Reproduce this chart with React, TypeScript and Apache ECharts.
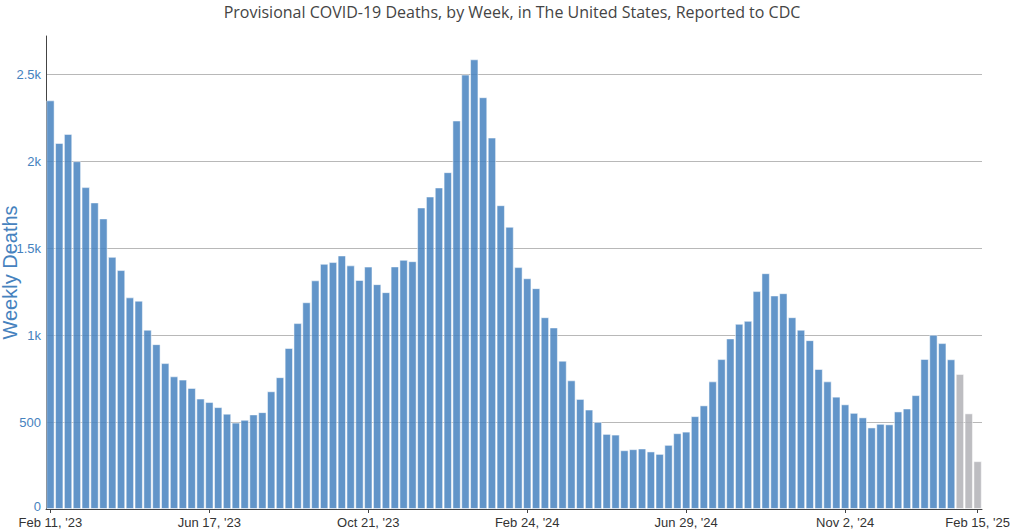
import React, { useEffect, useRef } from "react";
import * as echarts from "echarts";

const TITLE = "Provisional COVID-19 Deaths, by Week, in The United States, Reported to CDC";
const Y_AXIS_TITLE = "Weekly Deaths";
const FIRST_WEEK_UTC = Date.UTC(2023, 1, 11);

// Weekly deaths, reported (blue)
const reportedDeaths = [
  2350, 2105, 2157, 2000, 1851, 1763, 1671, 1450, 1374, 1217,
  1198, 1031, 948, 839, 763, 744, 696, 635, 615, 586,
  548, 497, 513, 544, 557, 677, 758, 926, 1069, 1189,
  1315, 1410, 1420, 1458, 1401, 1317, 1394, 1293, 1247, 1395,
  1433, 1425, 1734, 1797, 1849, 1937, 2234, 2498, 2586, 2368,
  2136, 1747, 1623, 1391, 1327, 1270, 1103, 1044, 853, 740,
  633, 572, 501, 432, 428, 338, 344, 348, 331, 317,
  369, 436, 445, 534, 596, 734, 862, 981, 1065, 1082,
  1253, 1356, 1228, 1241, 1103, 1031, 971, 805, 734, 646,
  602, 553, 527, 469, 490, 487, 561, 578, 655, 863,
  1002, 954, 861,
];
// Most recent weeks, still incomplete (grey)
const provisionalDeaths = [777, 550, 275];

const xTickIndices = [0, 18, 36, 54, 72, 90, 105];
const yTickValues = [0, 500, 1000, 1500, 2000, 2500];
const yTickLabels = ["0", "500", "1k", "1.5k", "2k", "2.5k"];
const Y_MAX = 2720;

const MONTHS = ["Jan", "Feb", "Mar", "Apr", "May", "Jun", "Jul", "Aug", "Sep", "Oct", "Nov", "Dec"];
const weekCount = reportedDeaths.length + provisionalDeaths.length;
const categories: string[] = [];
for (let i = 0; i < weekCount; i++) {
  const d = new Date(FIRST_WEEK_UTC + i * 7 * 86400000);
  categories.push(
    `${MONTHS[d.getUTCMonth()]} ${d.getUTCDate()}, '${String(d.getUTCFullYear()).slice(2)}`
  );
}

const BLUE = "#4782c0";
const GREY = "#b2b2b6";
const LABEL_BLUE = "#4682be";

export default function App() {
  const ref = useRef<HTMLDivElement>(null);
  useEffect(() => {
    document.body.style.margin = "0";
    if (!ref.current) return;
    const chart = echarts.init(ref.current, undefined, { renderer: "svg" });
    const tickSet = new Set(xTickIndices);
    const data = [
      ...reportedDeaths.map((v) => ({ value: v })),
      ...provisionalDeaths.map((v) => ({ value: v, itemStyle: { color: GREY } })),
    ];
    chart.setOption({
      animation: false,
      title: {
        text: TITLE,
        left: "center",
        top: -1,
        textStyle: {
          fontFamily: "Open Sans",
          fontSize: 16,
          fontWeight: "normal",
          color: "#444",
        },
      },
      grid: { left: 46, right: 42, top: 36, bottom: 23, containLabel: false },
      xAxis: {
        type: "category",
        data: categories,
        boundaryGap: true,
        axisLine: { show: true, lineStyle: { color: "#444", width: 1 } },
        axisTick: {
          show: true,
          alignWithLabel: true,
          interval: (i: number) => tickSet.has(i),
          length: 4,
          lineStyle: { color: "#444" },
        },
        axisLabel: {
          interval: (i: number) => tickSet.has(i),
          color: "#333",
          fontSize: 13,
          lineHeight: 13,
          fontFamily: "Liberation Sans",
          margin: 7,
          hideOverlap: false,
        },
        splitLine: { show: false },
      },
      yAxis: {
        type: "value",
        min: 0,
        max: Y_MAX,
        interval: 500,
        axisLine: { show: true, lineStyle: { color: "#444", width: 1 } },
        axisTick: { show: false, customValues: yTickValues },
        axisLabel: {
          customValues: yTickValues,
          formatter: (v: number) => {
            const idx = yTickValues.indexOf(v);
            if (idx < 0) return "";
            return v === 0 ? "{zero|0}" : yTickLabels[idx];
          },
          rich: {
            zero: {
              color: LABEL_BLUE,
              fontSize: 13,
              lineHeight: 10,
              fontFamily: "Liberation Sans",
              padding: [0, 0, 5, 0],
            },
          },
          color: LABEL_BLUE,
          fontSize: 13,
          lineHeight: 10,
          fontFamily: "Liberation Sans",
          margin: 5,
        },
        splitLine: {
          show: true,
          lineStyle: { color: "#b8b8b8", width: 1 },
        },
      },
      graphic: [
        {
          type: "text",
          x: 10,
          y: 272.5,
          rotation: Math.PI / 2,
          style: {
            text: Y_AXIS_TITLE,
            fill: LABEL_BLUE,
            fontSize: 20,
            fontFamily: "Liberation Sans",
            align: "center",
            verticalAlign: "middle",
          },
        },
      ],
      series: [
        {
          type: "bar",
          data,
          barCategoryGap: "5%",
          itemStyle: {
            color: BLUE,
            opacity: 0.85,
            borderColor: "rgba(255,255,255,0.6)",
            borderWidth: 1,
          },
        },
      ],
    });
    return () => chart.dispose();
  }, []);
  return <div ref={ref} style={{ width: 1024, height: 532 }} />;
}
